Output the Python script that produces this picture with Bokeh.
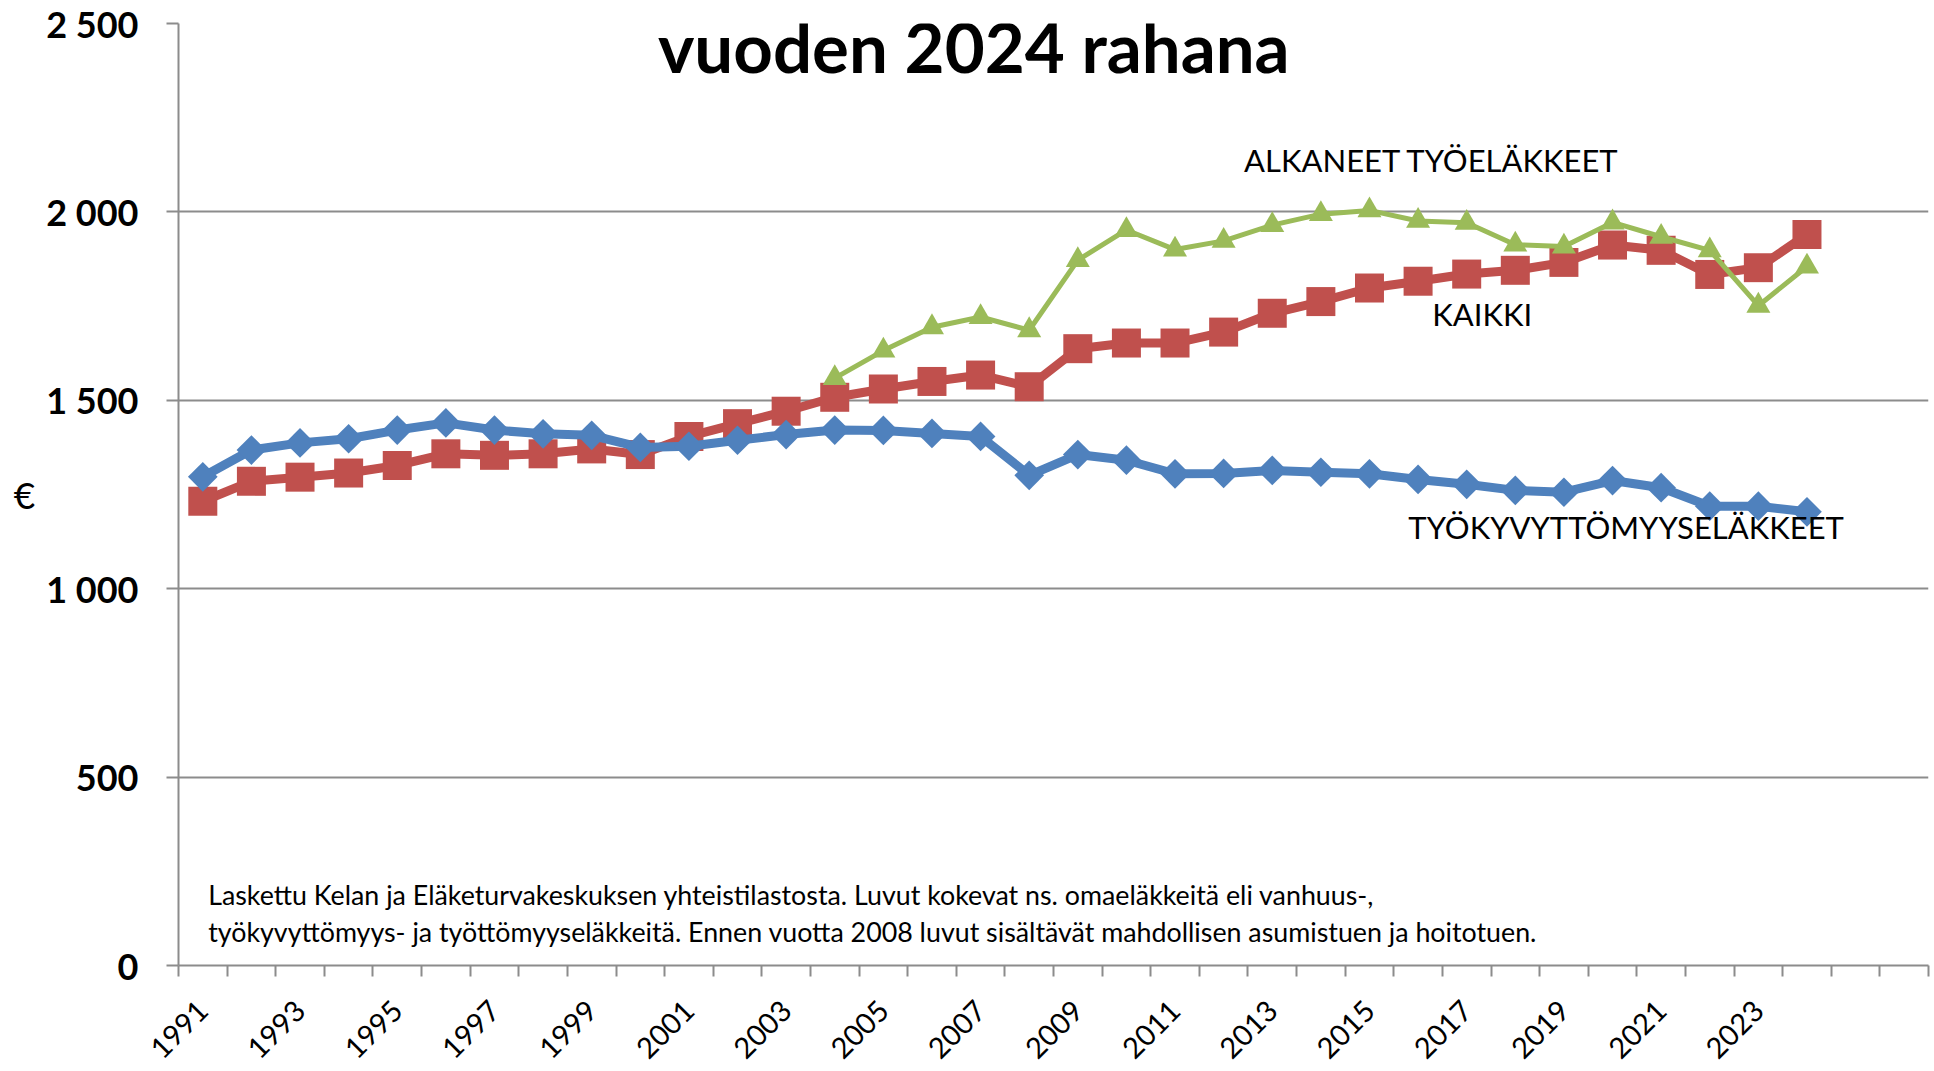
import math
from bokeh.plotting import figure
from bokeh.models import Range1d, FixedTicker, Label
from bokeh.embed import file_html
from bokeh.resources import INLINE

# ---------------- data ----------------
years = list(range(1991, 2025))
tyokyvyttomyys = [1297, 1368, 1387, 1398, 1421, 1440, 1421, 1411, 1407, 1375,
                  1378, 1394, 1409, 1421, 1420, 1412, 1404, 1301, 1356, 1341,
                  1305, 1306, 1314, 1309, 1305, 1290, 1277, 1261, 1256, 1287,
                  1268, 1219, 1219, 1204]
kaikki = [1232, 1285, 1296, 1307, 1327, 1358, 1354, 1358, 1371, 1356,
          1404, 1438, 1471, 1508, 1530, 1550, 1567, 1536, 1637, 1652,
          1652, 1681, 1731, 1762, 1798, 1816, 1835, 1845, 1866, 1912,
          1898, 1834, 1852, 1940]
alkaneet_years = list(range(2004, 2025))
alkaneet = [1559, 1632, 1694, 1721, 1686, 1872, 1952, 1900, 1923, 1965,
            1994, 2004, 1976, 1971, 1913, 1908, 1972, 1934, 1898, 1751, 1855]

category_years = list(range(1991, 2027))          # axis categories
x_label_years = list(range(1991, 2024, 2))        # labelled categories
y_ticks = [0, 500, 1000, 1500, 2000, 2500]
y_tick_labels = ["0", "500", "1 000", "1 500", "2 000", "2 500"]

title_text = "vuoden 2024 rahana"
series_names = ["ALKANEET TYÖELÄKKEET", "KAIKKI", "TYÖKYVYTTÖMYYSELÄKKEET"]
footnote = ["Laskettu Kelan ja Eläketurvakeskuksen yhteistilastosta. Luvut kokevat ns. omaeläkkeitä eli vanhuus-,",
            "työkyvyttömyys- ja työttömyyseläkkeitä. Ennen vuotta 2008 luvut sisältävät mahdollisen asumistuen ja hoitotuen."]
y_unit = "€"

# ---------------- style ----------------
FONT = "Lato"
BLUE, RED, GREEN = "#4F81BD", "#C0504D", "#9BBB59"
GRID = "#8C8C8C"

x0 = category_years[0] - 0.5
x1 = category_years[-1] + 0.5

p = figure(width=1934, height=1071,
           x_range=Range1d(x0, x1), y_range=Range1d(0, 2500),
           output_backend="svg", toolbar_location=None,
           min_border_left=178, min_border_right=6,
           min_border_top=23, min_border_bottom=106)
p.outline_line_color = None
p.background_fill_color = "white"

# grid
p.xgrid.grid_line_color = None
p.ygrid.grid_line_color = GRID
p.ygrid.grid_line_width = 2

# y axis
yax = p.yaxis[0]
yax.ticker = FixedTicker(ticks=y_ticks)
yax.major_label_overrides = dict(zip(y_ticks, y_tick_labels))
yax.major_label_text_font = FONT
yax.major_label_text_font_style = "bold"
yax.major_label_text_font_size = "36px"
yax.major_label_text_color = "black"
yax.major_label_standoff = 28
yax.major_tick_out = 12
yax.major_tick_in = 0
yax.major_tick_line_color = GRID
yax.major_tick_line_width = 2
yax.minor_tick_line_color = None
yax.axis_line_color = GRID
yax.axis_line_width = 2

use_axis_label = "axis_label_orientation" in yax.properties()
if use_axis_label:
    yax.axis_label = y_unit
    yax.axis_label_orientation = "horizontal"
    yax.axis_label_text_font = FONT
    yax.axis_label_text_font_style = "normal"
    yax.axis_label_text_font_size = "37px"
    yax.axis_label_text_color = "black"
    yax.axis_label_standoff = 8

# x axis
xax = p.xaxis[0]
boundaries = [y - 0.5 for y in category_years] + [category_years[-1] + 0.5]
xax.ticker = FixedTicker(ticks=x_label_years, minor_ticks=boundaries)
xax.major_tick_line_color = None
xax.major_tick_out = 0
xax.major_tick_in = 0
xax.minor_tick_line_color = GRID
xax.minor_tick_line_width = 2
xax.minor_tick_out = 11
xax.minor_tick_in = 0
xax.axis_line_color = GRID
xax.axis_line_width = 2
xax.major_label_orientation = math.pi / 4
xax.major_label_text_font = FONT
xax.major_label_text_font_size = "29px"
xax.major_label_text_color = "black"
xax.major_label_standoff = 29

# series (red bottom, green, blue top)
p.line(years, kaikki, line_color=RED, line_width=9, line_join="round")
p.scatter(years, kaikki, marker="square", size=29, fill_color=RED, line_color=None)

p.line(alkaneet_years, alkaneet, line_color=GREEN, line_width=5, line_join="round")
p.scatter(alkaneet_years, alkaneet, marker="triangle", size=24, fill_color=GREEN, line_color=None)

p.line(years, tyokyvyttomyys, line_color=BLUE, line_width=9, line_join="round")
p.scatter(years, tyokyvyttomyys, marker="square", angle=math.pi / 4, size=21,
          fill_color=BLUE, line_color=None)

# texts
def lab(x, y, text, size, style="normal", align="left", baseline="alphabetic", **kw):
    p.add_layout(Label(x=x, y=y, text=text, text_font=FONT, text_font_size=size,
                       text_font_style=style, text_align=align,
                       text_baseline=baseline, text_color="black", **kw))

lab(2006.86, 2438, title_text, "69px", style="bold", align="center")
lab(2012.42, 2137, series_names[0], "31px")
lab(2016.29, 1728, series_names[1], "31px")
lab(2015.80, 1165, series_names[2], "31px")
lab(1991.11, 188, footnote[0], "26.8px")
lab(1991.11, 89, footnote[1], "26.8px")
if not use_axis_label:
    lab(-150, 470, y_unit, "37px", align="center", baseline="middle",
        x_units="screen", y_units="screen")

open("out.html", "w").write(file_html(p, INLINE))
